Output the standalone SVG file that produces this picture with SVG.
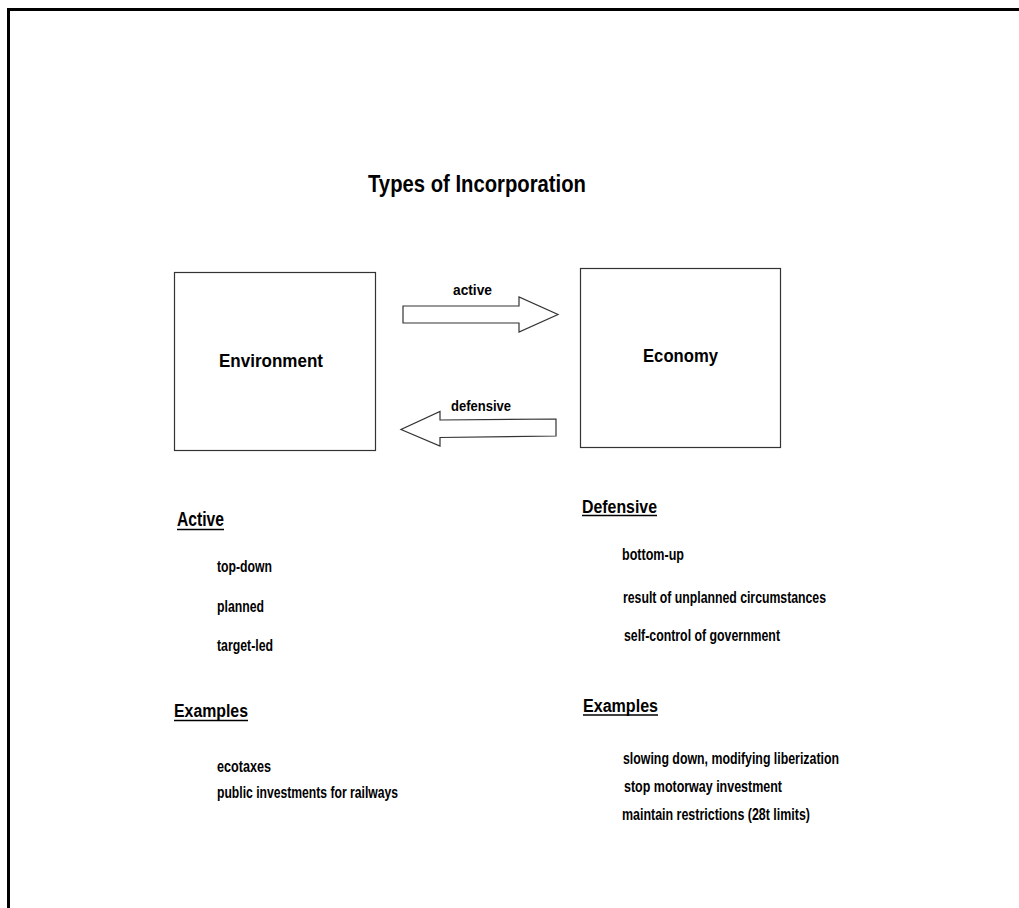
<svg xmlns="http://www.w3.org/2000/svg" width="1019" height="908" viewBox="0 0 1019 908">
  <style>
    text { font-family: "Liberation Sans", Arial, sans-serif; fill: #000; font-weight: bold; }
    .title { font-size: 24px; }
    .node-label { font-size: 17.5px; }
    .arrow-label { font-size: 15px; }
    .heading { font-size: 18px; }
    .item { font-size: 16px; }
    .box { fill: #fff; stroke: #333; stroke-width: 1.2; }
    .block-arrow { fill: #fff; stroke: #333; stroke-width: 1.2; stroke-linejoin: miter; }
    .uline { stroke: #000; stroke-width: 1.5; }
  </style>

  <rect width="1019" height="908" fill="#fff"/>
  <!-- page frame -->
  <path d="M8.5,908 V9.5 H1019" fill="none" stroke="#000" stroke-width="3"/>

  <g id="title">
    <text class="title" x="368" y="192" textLength="218" lengthAdjust="spacingAndGlyphs">Types of Incorporation</text>
  </g>

  <g id="environment">
    <rect class="box" x="174.5" y="272.5" width="201" height="178"/>
    <text class="node-label" x="219" y="367" textLength="104" lengthAdjust="spacingAndGlyphs">Environment</text>
  </g>

  <g id="economy">
    <rect class="box" x="580.5" y="268.5" width="200" height="179"/>
    <text class="node-label" x="643" y="362" textLength="75" lengthAdjust="spacingAndGlyphs">Economy</text>
  </g>

  <g id="connectors">
    <g id="arrow-active">
      <polygon class="block-arrow" points="403,306 519,306 519,297 558,314.5 519,332 519,323 403,323"/>
      <text class="arrow-label" x="453" y="295" textLength="39" lengthAdjust="spacingAndGlyphs">active</text>
    </g>
    <g id="arrow-defensive">
      <polygon class="block-arrow" points="556,419 440,420 440,411.5 401,429.5 440,446 440,437.5 556,436"/>
      <text class="arrow-label" x="451" y="411" textLength="60" lengthAdjust="spacingAndGlyphs">defensive</text>
    </g>
  </g>

  <g id="active-list">
    <text class="heading" x="177" y="526" textLength="47" lengthAdjust="spacingAndGlyphs" style="font-size:20px">Active</text>
    <line class="uline" x1="177" y1="529.5" x2="224" y2="529.5"/>
    <text class="item" x="217" y="571.5" textLength="55" lengthAdjust="spacingAndGlyphs">top-down</text>
    <text class="item" x="217" y="611.5" textLength="47" lengthAdjust="spacingAndGlyphs">planned</text>
    <text class="item" x="217" y="651" textLength="56" lengthAdjust="spacingAndGlyphs">target-led</text>
  </g>

  <g id="active-examples">
    <text class="heading" x="174" y="717" textLength="74" lengthAdjust="spacingAndGlyphs">Examples</text>
    <line class="uline" x1="174" y1="720.5" x2="248" y2="720.5"/>
    <text class="item" x="217" y="771.5" textLength="54" lengthAdjust="spacingAndGlyphs">ecotaxes</text>
    <text class="item" x="217" y="798" textLength="181" lengthAdjust="spacingAndGlyphs">public investments for railways</text>
  </g>

  <g id="defensive-list">
    <text class="heading" x="582" y="512.5" textLength="75" lengthAdjust="spacingAndGlyphs">Defensive</text>
    <line class="uline" x1="582" y1="515.5" x2="657" y2="515.5"/>
    <text class="item" x="622" y="560" textLength="62" lengthAdjust="spacingAndGlyphs">bottom-up</text>
    <text class="item" x="623" y="602.5" textLength="203" lengthAdjust="spacingAndGlyphs">result of unplanned circumstances</text>
    <text class="item" x="624" y="641" textLength="156" lengthAdjust="spacingAndGlyphs">self-control of government</text>
  </g>

  <g id="defensive-examples">
    <text class="heading" x="583" y="712" textLength="75" lengthAdjust="spacingAndGlyphs">Examples</text>
    <line class="uline" x1="583" y1="715" x2="658" y2="715"/>
    <text class="item" x="623" y="764" textLength="216" lengthAdjust="spacingAndGlyphs">slowing down, modifying liberization</text>
    <text class="item" x="624" y="791.5" textLength="158" lengthAdjust="spacingAndGlyphs">stop motorway investment</text>
    <text class="item" x="622" y="820" textLength="188" lengthAdjust="spacingAndGlyphs">maintain restrictions (28t limits)</text>
  </g>
</svg>
